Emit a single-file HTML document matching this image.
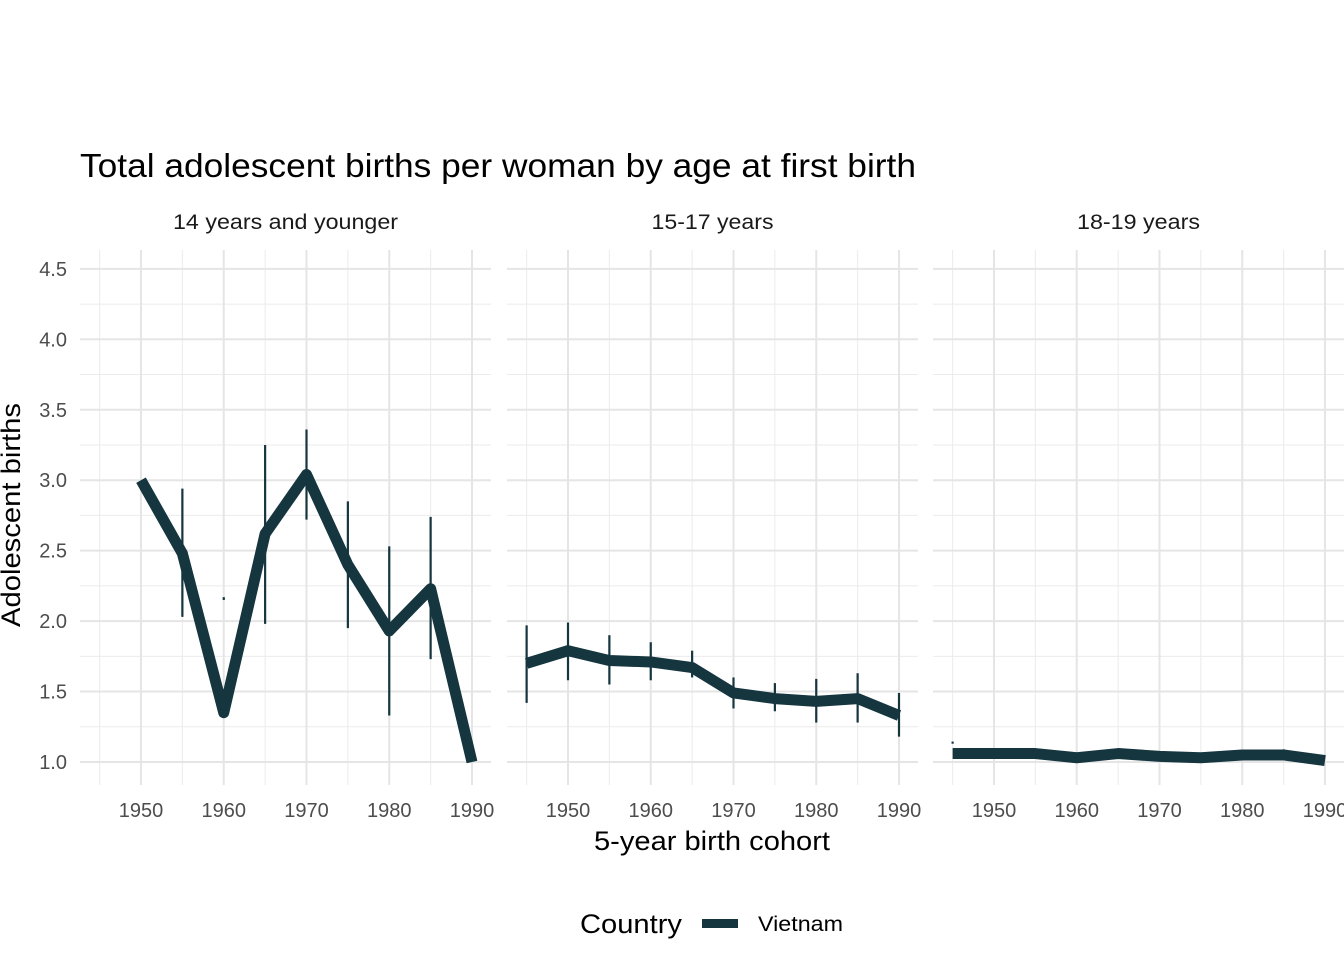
<!DOCTYPE html>
<html><head><meta charset="utf-8"><style>
html,body{margin:0;padding:0;background:#fff;}
svg{display:block;font-family:"Liberation Sans",Arial,sans-serif;}
</style></head><body>
<svg id="chart" width="1344" height="960" viewBox="0 0 1344 960">
<text x="80" y="177" font-size="33" textLength="836" lengthAdjust="spacingAndGlyphs" fill="#000">Total adolescent births per woman by age at first birth</text>
<text x="594" y="850" font-size="27" textLength="236" lengthAdjust="spacingAndGlyphs" fill="#000">5-year birth cohort</text>
<text transform="translate(20,627) rotate(-90)" font-size="27" textLength="224" lengthAdjust="spacingAndGlyphs" fill="#000">Adolescent births</text>
<g>
<text x="580" y="933" font-size="27" textLength="102" lengthAdjust="spacingAndGlyphs" fill="#000">Country</text>
<rect x="702" y="919" width="36" height="9" fill="#15353f"></rect>
<text x="758" y="931" font-size="21" textLength="85" lengthAdjust="spacingAndGlyphs" fill="#000">Vietnam</text>
</g>
<g id="panels"></g>
</svg>
<script>
const panelNames = ["14 years and younger","15-17 years","18-19 years"];
const stripLens = [225,122,123];
const xTicks = [1950,1960,1970,1980,1990];
const yTicks = [1.0,1.5,2.0,2.5,3.0,3.5,4.0,4.5];
const years1 = [1950,1955,1960,1965,1970,1975,1980,1985,1990];
const vals1 = [3.0,2.48,1.35,2.62,3.04,2.4,1.93,2.23,1.0];
const errYears1 = [1955,1960,1965,1970,1975,1980,1985];
const lo1 = [2.03,2.15,1.98,2.72,1.95,1.33,1.73];
const hi1 = [2.94,2.17,3.25,3.36,2.85,2.53,2.74];
const years2 = [1945,1950,1955,1960,1965,1970,1975,1980,1985,1990];
const vals2 = [1.70,1.79,1.72,1.71,1.67,1.49,1.45,1.43,1.45,1.33];
const lo2 = [1.42,1.58,1.55,1.58,1.60,1.38,1.36,1.28,1.28,1.18];
const hi2 = [1.97,1.99,1.90,1.85,1.79,1.60,1.56,1.59,1.63,1.49];
const years3 = [1945,1950,1955,1960,1965,1970,1975,1980,1985,1990];
const vals3 = [1.06,1.06,1.06,1.03,1.06,1.04,1.03,1.05,1.05,1.01];
const errYears3 = [1945,1950,1985];
const lo3 = [1.13,1.03,1.03];
const hi3 = [1.145,1.08,1.09];

const panelLeft = [80,507,933];
const panelW = 411;
const PT=250, PB=785;
const ns="http://www.w3.org/2000/svg";
const root=document.getElementById('panels');
function y(v){return 762-(v-1)*140.9;}
function mk(tag,attrs,parent){const e=document.createElementNS(ns,tag);for(const k in attrs)e.setAttribute(k,attrs[k]);parent.appendChild(e);return e;}
const series=[
 {years:years1,vals:vals1,ey:errYears1,lo:lo1,hi:hi1},
 {years:years2,vals:vals2,ey:years2,lo:lo2,hi:hi2},
 {years:years3,vals:vals3,ey:errYears3,lo:lo3,hi:hi3}];
panelNames.forEach((nm,i)=>{
 const L=panelLeft[i];
 function x(yr){return L+61+(yr-1950)*8.275;}
 const g=mk('g',{},root);
 
 
 for(let v=1.25;v<4.6;v+=0.5){mk('line',{x1:L,x2:L+panelW,y1:y(v),y2:y(v),stroke:'#ebebeb','stroke-width':1},g);}
 for(let yr=1945;yr<=1985;yr+=10){mk('line',{x1:x(yr),x2:x(yr),y1:PT,y2:PB,stroke:'#ebebeb','stroke-width':1},g);}
 yTicks.forEach(v=>{const l=mk('line',{x1:L,x2:L+panelW,y1:y(v),y2:y(v),stroke:'#e5e5e5','stroke-width':2},g);
   });
 xTicks.forEach(t=>{mk('line',{x1:x(t),x2:x(t),y1:PT,y2:PB,stroke:'#e5e5e5','stroke-width':2},g);
   const tx=mk('text',{x:x(t),y:817,'font-size':20,'text-anchor':'middle',fill:'#4d4d4d'},g);tx.textContent=t;
   });
 const st=mk('text',{x:L+panelW/2,y:229,'font-size':21,'text-anchor':'middle',fill:'#1a1a1a',textLength:stripLens[i],lengthAdjust:'spacingAndGlyphs'},g);st.textContent=nm;
 
 const s=series[i];
 s.ey.forEach((yr,j)=>{const e=mk('line',{x1:x(yr),x2:x(yr),y1:y(s.lo[j]),y2:y(s.hi[j]),stroke:'#15353f','stroke-width':2.2},g);
   });
 const p=mk('polyline',{points:s.years.map((yr,j)=>x(yr)+','+y(s.vals[j])).join(' '),fill:'none',stroke:'#15353f','stroke-width':11,'stroke-linejoin':'round'},g);
 
});
yTicks.forEach(v=>{const t=mk('text',{x:67,y:y(v)+7,'font-size':20,'text-anchor':'end',fill:'#4d4d4d'},root);t.textContent=v.toFixed(1);
 });
</script>
</body></html>
